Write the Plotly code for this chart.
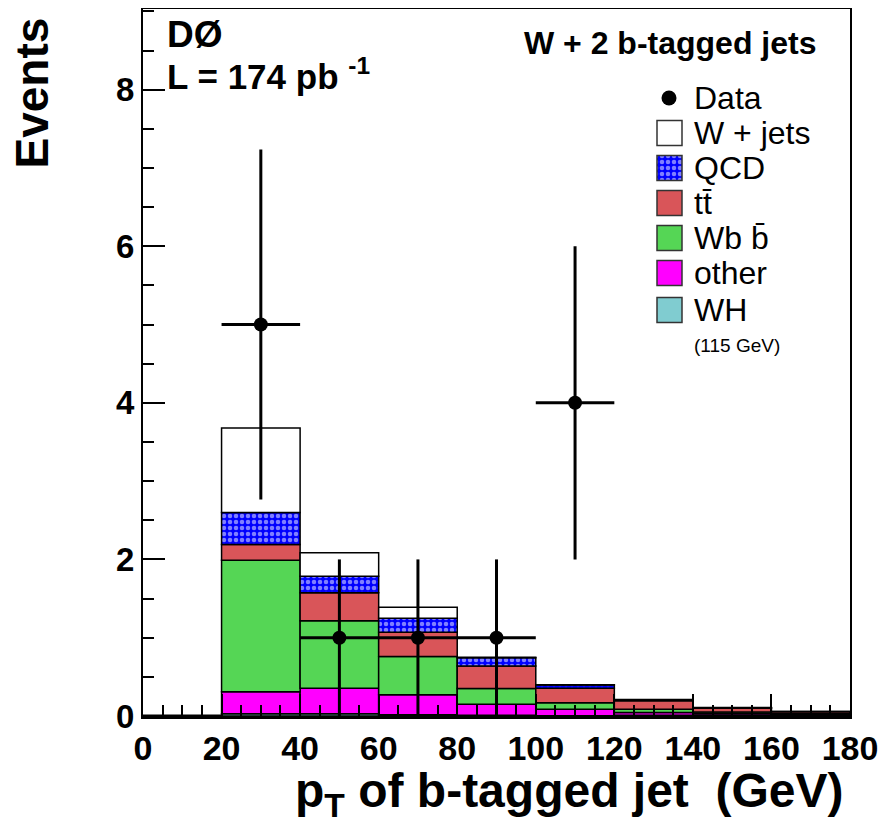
import numpy as np
import plotly.graph_objects as go

# ---------------- data ----------------
bin_edges = [0, 20, 40, 60, 80, 100, 120, 140, 160, 180]
wh     = [0, 0.03, 0.03, 0.015, 0.008, 0.004, 0.002, 0.001, 0.001]
other  = [0, 0.28, 0.325, 0.255, 0.142, 0.081, 0.043, 0.029, 0.019]
wbb    = [0, 1.68, 0.86, 0.49, 0.20, 0.085, 0.04, 0.02, 0.01]
ttbar  = [0, 0.20, 0.36, 0.31, 0.29, 0.184, 0.11, 0.05, 0.025]
qcd    = [0, 0.41, 0.21, 0.18, 0.105, 0.042, 0.01, 0.005, 0.002]
wjets  = [0, 1.08, 0.30, 0.14, 0.005, 0.004, 0.005, 0.003, 0.001]
data   = [0, 5, 1, 1, 1, 4, 0, 0, 0]

x_ticks = [0, 20, 40, 60, 80, 100, 120, 140, 160, 180]
y_ticks = [0, 2, 4, 6, 8]

# ---------------- styling ----------------
SANS = "Liberation Sans, Arial, Helvetica, sans-serif"
edges = np.array(bin_edges, dtype=float)
centers = 0.5 * (edges[:-1] + edges[1:])
widths = np.diff(edges)

QCD_PAT = dict(shape=".", fgcolor="#ffffff", bgcolor="#0000ff", size=6, solidity=0.45)
layers = [
    ("WH", wh, "#80ccd0", None),
    ("other", other, "#ff00ff", None),
    ("Wbb", wbb, "#55d655", None),
    ("tt", ttbar, "#d95559", None),
    ("QCD", qcd, "#0000ff", QCD_PAT),
    ("W+jets", wjets, "#ffffff", None),
]

fig = go.Figure()
base = np.zeros(len(centers))
for name, vals, col, pat in layers:
    vals = np.array(vals, dtype=float)
    marker = dict(color=col, line=dict(color="black", width=1.5))
    if pat:
        marker["pattern"] = pat
    fig.add_trace(go.Bar(x=centers, y=vals, base=base, width=widths, marker=marker,
                         name=name, showlegend=False))
    base = base + vals

d = np.array(data, dtype=float)
fig.add_trace(go.Scatter(
    x=centers, y=d, mode="markers",
    marker=dict(color="black", opacity=1, line=dict(width=0),
                size=[14 if v > 0 else 0 for v in d]),
    error_y=dict(type="data", array=np.sqrt(d), color="black", thickness=3, width=0),
    error_x=dict(type="data", array=widths / 2, color="black", thickness=3, width=0),
    showlegend=False, cliponaxis=False))

# ---------------- page geometry (browser body has 8px margin) ----------------
OFF = 8
PX0, PY0, PW = 143, 716, 707  # plot origin and size in reference pixels
def lx(px):
    return px - PX0
def ly(py):
    return PY0 - py
def ppx(px):
    return (px - PX0) / PW
def ppy(py):
    return (PY0 - py) / PW

leg_rows = [
    ("W + jets", "#ffffff", None, 133),
    ("QCD", "#0000ff", QCD_PAT, 168),
    ("tt\u0304", "#d95559", None, 203),
    ("Wb b\u0304", "#55d655", None, 238),
    ("other", "#ff00ff", None, 273),
    ("WH", "#80ccd0", None, 310),
]
box_x0, box_x1, box_h = 657, 682, 25
text_x = 692
for label, col, pat, yc in leg_rows:
    marker = dict(color=col, line=dict(color="#333333", width=1.5))
    if pat:
        marker["pattern"] = pat
    fig.add_trace(go.Bar(x=[lx((box_x0 + box_x1) / 2)], y=[box_h], base=[ly(yc + box_h / 2)],
                         width=[box_x1 - box_x0], marker=marker, xaxis="x2", yaxis="y2",
                         showlegend=False, hoverinfo="skip"))
    fig.add_annotation(x=ppx(text_x), y=ppy(yc), xref="paper", yref="paper", text=label,
                       showarrow=False, xanchor="left", yanchor="middle",
                       font=dict(family=SANS, size=32, color="black"))
fig.add_trace(go.Scatter(x=[lx(669)], y=[ly(98)], mode="markers", xaxis="x2", yaxis="y2",
                         marker=dict(color="black", size=15), showlegend=False, hoverinfo="skip"))
fig.add_annotation(x=ppx(text_x), y=ppy(98), xref="paper", yref="paper", text="Data",
                   showarrow=False, xanchor="left", yanchor="middle",
                   font=dict(family=SANS, size=32, color="black"))
fig.add_annotation(x=ppx(text_x), y=ppy(345), xref="paper", yref="paper", text="(115 GeV)",
                   showarrow=False, xanchor="left", yanchor="middle",
                   font=dict(family=SANS, size=19, color="black"))

# ---------------- texts ----------------
fig.add_annotation(x=ppx(165), y=ppy(34), xref="paper", yref="paper", text="<b>DØ</b>",
                   showarrow=False, xanchor="left", yanchor="middle",
                   font=dict(family=SANS, size=37, color="black"))
fig.add_annotation(x=ppx(165), y=ppy(74), xref="paper", yref="paper",
                   text="<b>L = 174 pb <sup>-1</sup></b>",
                   showarrow=False, xanchor="left", yanchor="middle",
                   font=dict(family=SANS, size=35, color="black"))
fig.add_annotation(x=ppx(818), y=ppy(43), xref="paper", yref="paper",
                   text="<b>W + 2 b-tagged jets</b>",
                   showarrow=False, xanchor="right", yanchor="middle",
                   font=dict(family=SANS, size=32, color="black"))
fig.add_annotation(x=ppx(31), y=ppy(16), xref="paper", yref="paper", text="<b>Events</b>",
                   textangle=-90, showarrow=False, xanchor="center", yanchor="top",
                   font=dict(family=SANS, size=46, color="black"))
fig.add_annotation(x=ppx(846), y=ppy(762), xref="paper", yref="paper",
                   text="<b>p<sub>T</sub> of b-tagged jet \u00a0(GeV)</b>",
                   showarrow=False, xanchor="right", yanchor="top",
                   font=dict(family=SANS, size=48, color="black"))

W, H = 887 - OFF, 829 - OFF
fig.update_layout(
    width=W, height=H,
    margin=dict(l=PX0 - OFF, r=OFF + W - (PX0 + PW), t=(PY0 - PW) - OFF, b=OFF + H - PY0),
    paper_bgcolor="white", plot_bgcolor="white",
    barmode="overlay",
    xaxis=dict(range=[0, 180], tickvals=x_ticks, ticks="inside", ticklen=22,
               tickwidth=1.5, tickcolor="black", automargin=False,
               minor=dict(dtick=5, ticklen=11, ticks="inside", tickcolor="black", tickwidth=1.5),
               showline=True, mirror=True, linecolor="black", linewidth=2.5,
               showgrid=False, zeroline=False, ticklabelstandoff=0,
               tickfont=dict(family=SANS, size=34, color="black", weight="bold")),
    yaxis=dict(range=[0, 9.03], tickvals=y_ticks, ticks="inside", ticklen=22,
               tickwidth=1.5, tickcolor="black", automargin=False,
               minor=dict(dtick=0.5, ticklen=11, ticks="inside", tickcolor="black", tickwidth=1.5),
               showline=True, mirror=True, linecolor="black", linewidth=2,
               showgrid=False, zeroline=False, ticklabelstandoff=0,
               tickfont=dict(family=SANS, size=33, color="black", weight="bold")),
    xaxis2=dict(range=[0, 707], overlaying="x", visible=False, fixedrange=True),
    yaxis2=dict(range=[0, 707], overlaying="y", visible=False, fixedrange=True),
)

fig.write_html("out.html")
